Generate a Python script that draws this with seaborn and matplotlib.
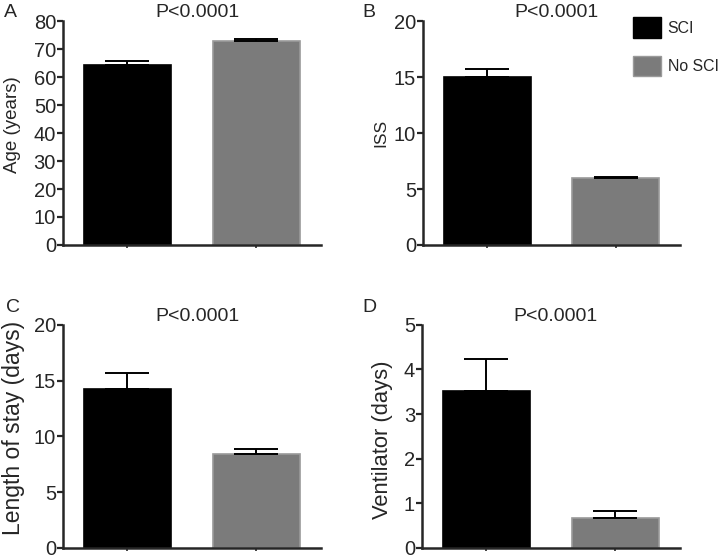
import numpy as np
import pandas as pd
import seaborn as sns
import matplotlib.pyplot as plt
from matplotlib.patches import Patch

groups = ['SCI', 'No SCI']
colors = ['#000000', '#7b7b7b']
edges = ['#000000', '#9a9a9a']

p_text = 'P<0.0001'
panel_letters = ['A', 'B', 'C', 'D']
ylabels = ['Age (years)', 'ISS', 'Length of stay (days)', 'Ventilator (days)']
ylabel_sizes = [13.5, 12.5, 16.5, 15.8]
ylabel_x = [-0.162, -0.136, -0.147, -0.112]
ylabel_y = [0.536, 0.5, 0.538, 0.484]

age_mean = [64.5, 73.0]
age_sem = [1.2, 0.7]
iss_mean = [15.0, 5.95]
iss_sem = [0.7, 0.1]
los_mean = [14.2, 8.4]
los_sem = [1.45, 0.45]
vent_mean = [3.52, 0.66]
vent_sem = [0.72, 0.17]

ymax = [80, 20, 20, 5]
ystep = [10, 5, 5, 1]

means = [age_mean, iss_mean, los_mean, vent_mean]
sems = [age_sem, iss_sem, los_sem, vent_sem]

# axes rectangles in figure fraction [left, bottom, width, height]
rects = [
    [0.0875, 0.561, 0.358, 0.401],
    [0.5875, 0.561, 0.357, 0.401],
    [0.0875, 0.018, 0.358, 0.400],
    [0.586, 0.018, 0.358, 0.400],
]
letter_pos = [(0.006, 0.992), (0.503, 0.992), (0.008, 0.465), (0.503, 0.465)]


def main():
    sns.set_style('ticks')
    plt.rcParams['font.family'] = ['Liberation Sans', 'DejaVu Sans']
    fig = plt.figure(figsize=(7.2, 5.58), dpi=100)

    for i in range(4):
        ax = fig.add_axes(rects[i])
        df = pd.DataFrame({'group': groups, 'value': means[i]})
        sns.barplot(data=df, x='group', y='value', hue='group', palette=colors,
                    order=groups, hue_order=groups, width=0.675, legend=False,
                    errorbar=None, ax=ax, saturation=1)
        for bar, ec in zip(ax.patches, edges):
            bar.set_edgecolor(ec)
            bar.set_linewidth(1.2)
        ax.errorbar(range(2), means[i], yerr=[np.zeros(2), sems[i]], fmt='none',
                    ecolor='black', elinewidth=1.4, capsize=15.5, capthick=1.4, zorder=1)
        ax.set_xlim(-0.5, 1.5)
        ax.set_ylim(0, ymax[i])
        ax.set_yticks(np.arange(0, ymax[i] + 0.01, ystep[i]))
        ax.set_xticks([0, 1])
        ax.set_xticklabels([])
        ax.set_xlabel('')
        ax.set_ylabel(ylabels[i], fontsize=ylabel_sizes[i])
        ax.tick_params(axis='y', labelsize=14.5, width=1.6, length=4, pad=1)
        ax.tick_params(axis='x', width=1.2, length=2)
        for s in ['left', 'bottom']:
            ax.spines[s].set_linewidth(1.8)
        sns.despine(ax=ax)
        ax.yaxis.set_label_coords(ylabel_x[i], ylabel_y[i])
        ax.set_title(p_text, fontsize=14, pad=3, x=0.52)
        fig.text(letter_pos[i][0], letter_pos[i][1], panel_letters[i],
                 fontsize=14, ha='left', va='top')

    handles = [Patch(facecolor=c, edgecolor=e) for c, e in zip(colors, edges)]
    fig.legend(handles, groups, loc='upper left', bbox_to_anchor=(0.879, 0.969),
               frameon=False, fontsize=11.4, handlelength=1.8, handleheight=1.6,
               labelspacing=1.15, handletextpad=0.4, borderpad=0, borderaxespad=0)

    fig.savefig('out.png', dpi=100)


if __name__ == '__main__':
    main()
